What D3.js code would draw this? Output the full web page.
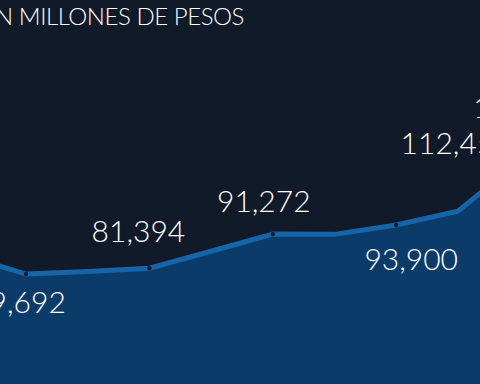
<!DOCTYPE html>
<html>
<head>
<meta charset="utf-8">
<script src="https://cdn.jsdelivr.net/npm/d3@7"></script>
<style>
  html, body { margin: 0; padding: 0; background: #111a28; overflow: hidden; }
  svg { display: block; }
</style>
</head>
<body>
<svg id="chart" width="480" height="384"></svg>
<script>
// ---- data ----
const periods = ["P1", "P2", "P3", "P4", "P5", "P6", "P7", "P8", "P9", "P10", "P11"];
const values  = [85200, 79692, 80400, 81394, 86300, 91272, 91200, 93900, 97950, 112450, 122000];
const labelText = ["79,692", "81,394", "91,272", "93,900", "112,450", "122,000"];
const labelIdx  = [1, 3, 5, 7, 9, 10];
const dotIdx    = [1, 3, 5, 7];
const title = "GASTO TOTAL EN MILLONES DE PESOS";

// ---- layout / style ----
const W = 480, H = 384;
const step = 61.7;
const x = d3.scaleLinear().domain([1, 2]).range([26, 26 + step]);
const y = d3.scaleLinear().domain([0, 130000]).range([549, 549 - 130000 * 0.00345]);
// label placement offsets (layout only)
const labelPos = [
  { dx: -7,  dy: 39,  anchor: "middle" },
  { dx: -11, dy: -26, anchor: "middle" },
  { dx: -9,  dy: -22, anchor: "middle" },
  { dx: 15,  dy: 45,  anchor: "middle" },
  { dx: -8,  dy: -7,  anchor: "end" },
  { dx: -108, dy: -10, anchor: "start" }
];

const svg = d3.select("#chart");
svg.append("rect").attr("width", W).attr("height", H).attr("fill", "#111a28");

const data = values.map((v, i) => ({ i, v, p: periods[i] }));

const area = d3.area().x(d => x(d.i)).y0(y(0)).y1(d => y(d.v));
const line = d3.line().x(d => x(d.i)).y(d => y(d.v));

svg.append("path").datum(data).attr("d", area).attr("fill", "#0b3c69");
svg.append("path").datum(data).attr("d", line)
  .attr("fill", "none").attr("stroke", "#1665a9").attr("stroke-width", 5)
  .attr("stroke-linejoin", "miter");

svg.selectAll("circle.dot").data(dotIdx).enter().append("circle")
  .attr("class", "dot")
  .attr("cx", i => x(i)).attr("cy", i => y(values[i])).attr("r", 2.2)
  .attr("fill", "#0d1b2c");

const fontFam = "Lato, 'Open Sans', sans-serif";
svg.selectAll("text.lbl").data(labelIdx).enter().append("text")
  .attr("class", "lbl")
  .attr("x", (i, k) => x(i) + labelPos[k].dx)
  .attr("y", (i, k) => y(values[i]) + labelPos[k].dy)
  .attr("text-anchor", (i, k) => labelPos[k].anchor)
  .attr("fill", "#ffffff")
  .attr("font-family", fontFam)
  .attr("font-weight", 300)
  .attr("font-size", 30)
  .text((i, k) => labelText[k]);

svg.append("text")
  .attr("x", 244).attr("y", 25)
  .attr("text-anchor", "end")
  .attr("fill", "#ffffff")
  .attr("font-family", fontFam)
  .attr("font-weight", 300)
  .attr("font-size", 24)
  .attr("letter-spacing", -0.45)
  .text(title);
</script>
</body>
</html>
